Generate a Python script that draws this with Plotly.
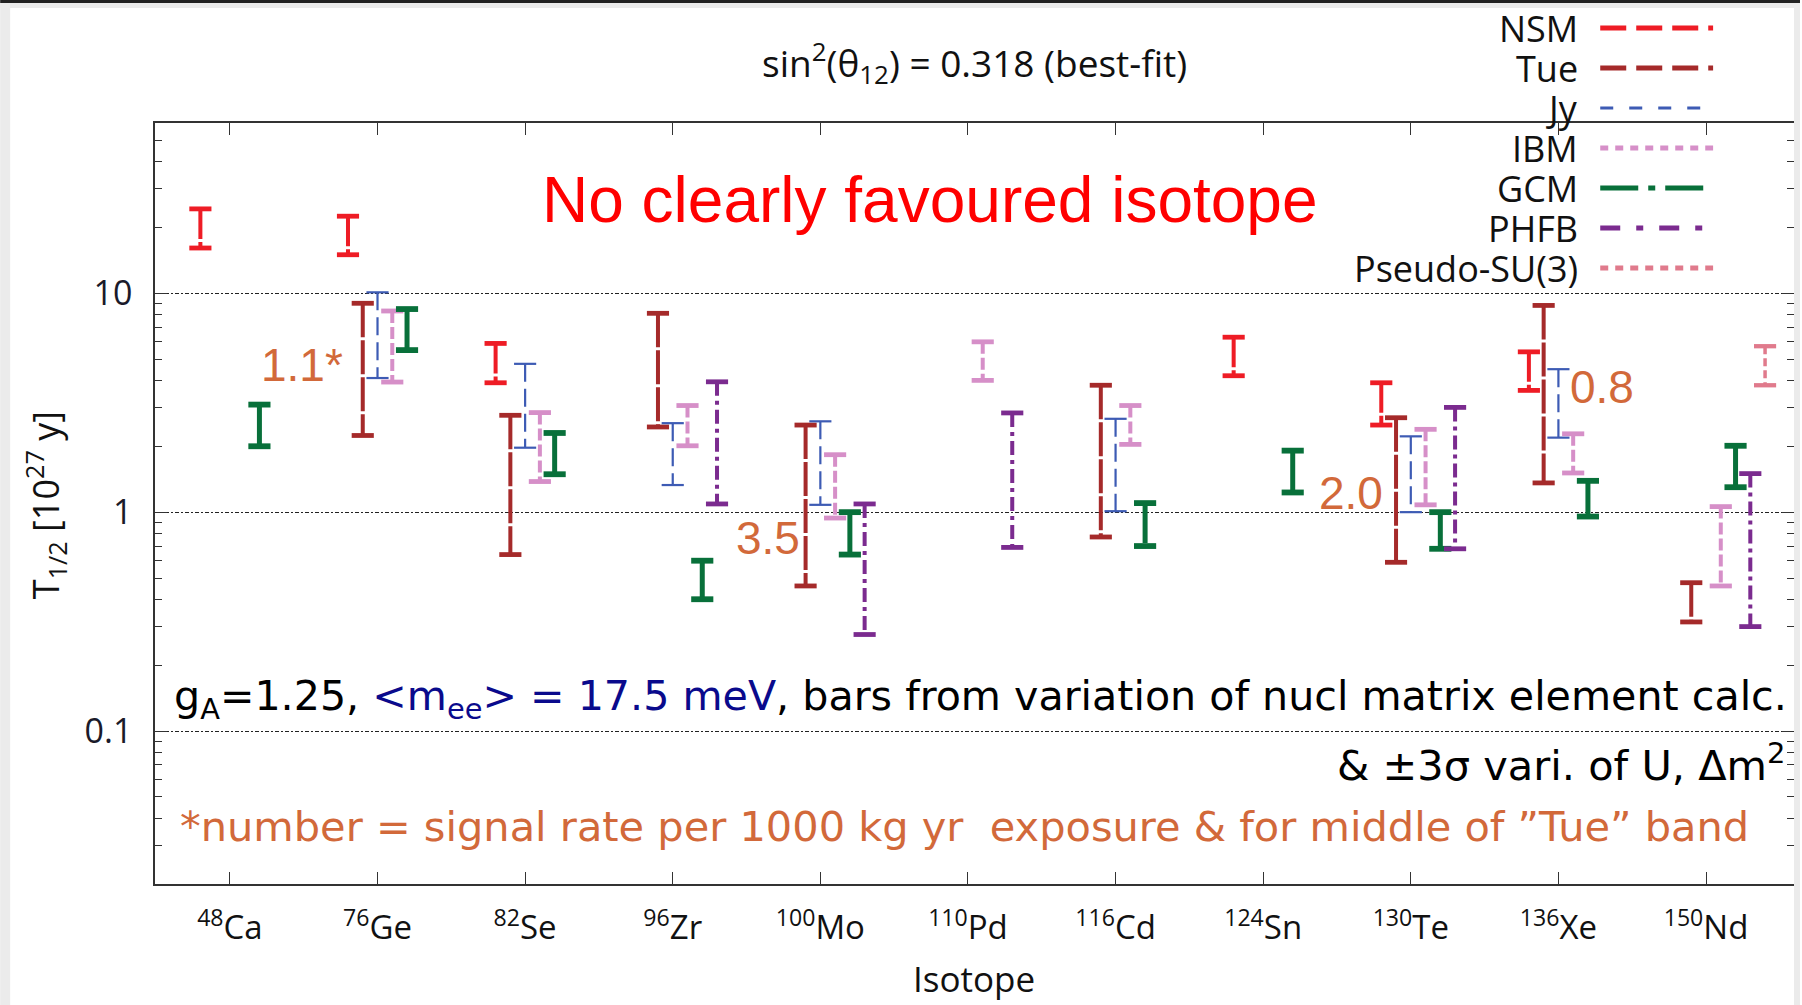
import plotly.graph_objects as go

# ---------------- data ----------------
tick_mass = ["48", "76", "82", "96", "100", "110", "116", "124", "130", "136", "150"]
tick_elem = ["Ca", "Ge", "Se", "Zr", "Mo", "Pd", "Cd", "Sn", "Te", "Xe", "Nd"]

models = ["NSM", "Tue", "Jy", "IBM", "GCM", "PHFB", "Pseudo-SU(3)"]

# lower / upper end of T1/2 bands [1e27 y], None = no calculation
nsm_lo = [16.1, 15.0, 3.9, None, None, None, None, 4.2, 2.5, 3.6, None]
nsm_hi = [24.3, 22.5, 5.9, None, None, None, None, 6.3, 3.9, 5.4, None]

tue_lo = [None, 2.24, 0.64, 2.45, 0.46, None, 0.77, None, 0.59, 1.36, 0.315]
tue_hi = [None, 9.0, 2.77, 8.1, 2.5, None, 3.8, None, 2.7, 8.8, 0.476]

jy_lo = [None, 4.1, 1.97, 1.33, 1.08, None, 1.01, None, 1.0, 2.19, None]
jy_hi = [None, 10.1, 4.76, 2.55, 2.6, None, 2.67, None, 2.22, 4.5, None]

ibm_lo = [None, 3.93, 1.38, 2.01, 0.94, 4.0, 2.04, None, 1.08, 1.51, 0.46]
ibm_hi = [None, 8.3, 2.85, 3.07, 1.83, 6.0, 3.07, None, 2.39, 2.28, 1.06]

gcm_lo = [2.0, 5.5, 1.49, 0.40, 0.64, None, 0.70, 1.23, 0.68, 0.955, 1.30]
gcm_hi = [3.1, 8.47, 2.30, 0.60, 1.0, None, 1.1, 1.91, 1.0, 1.39, 2.01]

phfb_lo = [None, None, None, 1.09, 0.276, 0.69, None, None, 0.68, None, 0.30]
phfb_hi = [None, None, None, 3.94, 1.09, 2.84, None, None, 3.01, None, 1.5]

psu_lo = [None, None, None, None, None, None, None, None, None, None, 3.8]
psu_hi = [None, None, None, None, None, None, None, None, None, None, 5.73]

band_lo = [nsm_lo, tue_lo, jy_lo, ibm_lo, gcm_lo, phfb_lo, psu_lo]
band_hi = [nsm_hi, tue_hi, jy_hi, ibm_hi, gcm_hi, phfb_hi, psu_hi]

rate_labels = ["1.1*", "3.5", "2.0", "0.8"]

# ---------------- styles ----------------
styles = {
    "NSM":          dict(color="#ee1c25", width=4.0, dash="30px,3px",          ldash="26px,10px",             off=-0.2),
    "Tue":          dict(color="#a52a2a", width=4.0, dash="34px,3px",          ldash="26px,10px",             off=-0.1),
    "Jy":           dict(color="#3d5bb4", width=2.2, dash="18px,7px",          ldash="13px,16px",             off=0.0),
    "IBM":          dict(color="#d68fc8", width=4.0, dash="12px,4px",          ldash="8px,7px",               off=0.1),
    "GCM":          dict(color="#08703a", width=5.0, dash="40px,3px,4px,3px",  ldash="38px,10px,7px,10px",    off=0.2),
    "PHFB":         dict(color="#7b2b8f", width=4.0, dash="14px,5px,4px,5px",  ldash="20px,16px,7px,16px",    off=0.3),
    "Pseudo-SU(3)": dict(color="#e07a8c", width=3.5, dash="8px,4px",           ldash="8px,7px",               off=0.4),
}
CAP = 0.075

W, H = 1802, 1005
ML, MR, MT, MB = 155, 6, 123, 121
PW, PH = W - ML - MR, H - MT - MB


def px(x):
    return (x - ML) / PW


def py(y):
    return (H - MB - y) / PH


fig = go.Figure()

for m, lo_arr, hi_arr in zip(models, band_lo, band_hi):
    st = styles[m]
    vx, vy, cx, cy = [], [], [], []
    for i, (lo, hi) in enumerate(zip(lo_arr, hi_arr)):
        if lo is None or hi is None:
            continue
        xc = i + st["off"]
        vx += [xc, xc, None]
        vy += [hi, lo, None]
        cx += [xc - CAP, xc + CAP, None, xc - CAP, xc + CAP, None]
        cy += [hi, hi, None, lo, lo, None]
    fig.add_trace(go.Scatter(x=vx, y=vy, mode="lines", name=m, showlegend=False,
                             line=dict(color=st["color"], width=st["width"], dash=st["dash"]),
                             hoverinfo="skip"))
    fig.add_trace(go.Scatter(x=cx, y=cy, mode="lines", name=m, showlegend=False,
                             line=dict(color=st["color"], width=st["width"] + (0.8 if st["width"] > 3 else 0)),
                             hoverinfo="skip"))

ticktext = [f"<sup>{a}</sup>{b}" for a, b in zip(tick_mass, tick_elem)]

fig.update_layout(
    width=W, height=H,
    margin=dict(l=ML, r=MR, t=MT, b=MB),
    paper_bgcolor="white", plot_bgcolor="white",
    showlegend=False,
    xaxis=dict(range=[-0.5074, 10.596], tickmode="array", tickvals=list(range(11)), ticktext=ticktext,
               ticks="inside", ticklen=12, tickwidth=1.3, tickcolor="#333",
               showline=True, linecolor="#333", linewidth=1.6, mirror="ticks",
               showgrid=False, zeroline=False,
               tickfont=dict(family="Open Sans", size=33, color="#111"), ticklabelstandoff=14),
    yaxis=dict(type="log", range=[-1.699, 1.778], tickmode="array", tickvals=[0.1, 1, 10],
               ticktext=["0.1", "1", "10"],
               ticks="inside", ticklen=12, tickwidth=1.3, tickcolor="#333",
               showline=True, linecolor="#333", linewidth=1.6, mirror="ticks",
               showgrid=True, gridcolor="#222", gridwidth=1, griddash="4px,2px,2px,2px",
               zeroline=False,
               minor=dict(ticks="inside", ticklen=7, tickcolor="#333", dtick="D1", showgrid=False),
               tickfont=dict(family="Open Sans", size=34, color="#1a1a2a"), ticklabelstandoff=14),
)

ann = []
# title line
ann.append(dict(x=px(975), y=py(62), xref="paper", yref="paper", xanchor="center", yanchor="middle",
                text="sin<sup>2</sup>(θ<sub>12</sub>) = 0.318 (best-fit)", showarrow=False,
                font=dict(family="Open Sans", size=37, color="#111")))
# big red statement
ann.append(dict(x=px(931), y=py(200), xref="paper", yref="paper", xanchor="center", yanchor="middle",
                text="No clearly favoured isotope", showarrow=False,
                font=dict(family="Liberation Sans", size=64, color="#ff0000")))
# y axis title
ann.append(dict(x=px(45), y=py(505), xref="paper", yref="paper", xanchor="center", yanchor="middle",
                text="T<sub>1/2</sub> [10<sup>27</sup> y]", textangle=-90, showarrow=False,
                font=dict(family="Open Sans", size=36, color="#111")))
# x axis title
ann.append(dict(x=px(975), y=py(1004), xref="paper", yref="paper", xanchor="center", yanchor="bottom",
                text="Isotope", showarrow=False,
                font=dict(family="Open Sans", size=35, color="#111")))
# bottom notes
note_font = "DejaVu Sans"
ann.append(dict(x=px(172), y=py(699), xref="paper", yref="paper", xanchor="left", yanchor="middle",
                text="g<sub>A</sub>=1.25, <span style='color:#0a0a8c'>&lt;m<sub>ee</sub>&gt; = 17.5 meV</span>, "
                     "bars from variation of nucl matrix element calc.",
                showarrow=False, font=dict(family=note_font, size=41.2, color="#000")))
ann.append(dict(x=px(1789), y=py(763), xref="paper", yref="paper", xanchor="right", yanchor="middle",
                text="&amp; ±3σ vari. of U, Δm<sup>2</sup>", showarrow=False,
                font=dict(family=note_font, size=41.5, color="#000")))
ann.append(dict(x=px(178), y=py(826), xref="paper", yref="paper", xanchor="left", yanchor="middle",
                text="*number = signal rate per 1000 kg yr  exposure &amp; for middle of ”Tue” band",
                showarrow=False, font=dict(family=note_font, size=41.5, color="#d2693a")))
# signal rate labels
rate_pos = [(345, 365), (803, 538), (1387, 493), (1570, 387)]
rate_anchor = ["right", "right", "right", "left"]
for t, (xx, yy), a in zip(rate_labels, rate_pos, rate_anchor):
    ann.append(dict(x=px(xx), y=py(yy), xref="paper", yref="paper", xanchor=a, yanchor="middle",
                    text=t, showarrow=False,
                    font=dict(family="Liberation Sans", size=46, color="#d2693a")))

shapes = []
# manual legend
for k, m in enumerate(models):
    st = styles[m]
    yy = 28 + 40 * k
    ann.append(dict(x=px(1582), y=py(yy), xref="paper", yref="paper", xanchor="right", yanchor="middle",
                    text=m, showarrow=False, font=dict(family="Open Sans", size=36, color="#111")))
    shapes.append(dict(type="line", xref="paper", yref="paper", x0=px(1602), x1=px(1715),
                       y0=py(yy), y1=py(yy), layer="above",
                       line=dict(color=st["color"], width=5 if st["width"] > 3 else 3.2, dash=st["ldash"])))

# frame of the slide (grey border bits)
shapes.append(dict(type="rect", xref="paper", yref="paper", x0=px(0), x1=px(10), y0=py(1005), y1=py(0),
                   fillcolor="#ebebeb", line=dict(width=0), layer="above"))
shapes.append(dict(type="rect", xref="paper", yref="paper", x0=px(1796), x1=px(1802), y0=py(1005), y1=py(0),
                   fillcolor="#ebebeb", line=dict(width=0), layer="above"))
shapes.append(dict(type="rect", xref="paper", yref="paper", x0=px(0), x1=px(1802), y0=py(8), y1=py(0),
                   fillcolor="#ebebeb", line=dict(width=0), layer="above"))
shapes.append(dict(type="rect", xref="paper", yref="paper", x0=px(0), x1=px(1802), y0=py(3), y1=py(0),
                   fillcolor="#222222", line=dict(width=0), layer="above"))

fig.update_layout(annotations=ann, shapes=shapes)

fig.write_html("out.html")
